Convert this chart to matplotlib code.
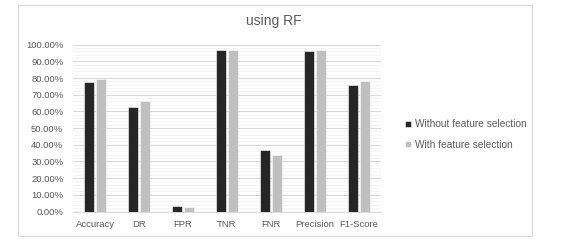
import matplotlib.pyplot as plt
import numpy as np
from matplotlib.patches import Rectangle
from matplotlib.ticker import MultipleLocator, PercentFormatter

# Data (in percent)
metrics = ["Accuracy", "DR", "FPR", "TNR", "FNR", "Precision", "F1-Score"]
without_fs = [77.5, 62.9, 3.2, 96.7, 36.8, 96.3, 75.8]
with_fs = [79.7, 66.3, 2.6, 97.1, 33.6, 96.7, 78.2]

DARK = "#262626"
LIGHT = "#bfbfbf"
TEXT = "#595959"

plt.rcParams['font.family'] = ['Liberation Sans', 'DejaVu Sans']

fig = plt.figure(figsize=(5.69, 2.46), dpi=100)
W, H = 569, 246

# outer chart border, like the Excel chart area
fig.patches.append(Rectangle((18 / W, 1 - 236 / H), (532 - 18) / W, (236 - 5) / H,
                             transform=fig.transFigure, fill=False,
                             edgecolor="#d9d9d9", linewidth=0.8))

ax = fig.add_axes([73 / W, 1 - 211.5 / H, (381 - 73) / W, (211.5 - 44.7) / H])

x = np.arange(len(metrics))
bw = 0.22
ax.bar(x - 0.14, without_fs, width=bw, color=DARK, edgecolor="white",
       linewidth=0.4, label="Without feature selection", zorder=3)
ax.bar(x + 0.14, with_fs, width=bw, color=LIGHT, edgecolor="white",
       linewidth=0.4, label="With feature selection", zorder=3)

ax.set_xlim(-0.5, len(metrics) - 0.5)
ax.set_ylim(0, 100)
ax.yaxis.set_major_locator(MultipleLocator(10))
ax.yaxis.set_minor_locator(MultipleLocator(2))
ax.yaxis.set_major_formatter(PercentFormatter(decimals=2))
ax.grid(axis='y', which='major', color="#d9d9d9", linewidth=0.8, zorder=0)
ax.grid(axis='y', which='minor', color="#f2f2f2", linewidth=0.6, zorder=0)

ax.set_xticks(x)
ax.set_xticklabels(metrics)
ax.tick_params(axis='both', which='both', length=0, labelsize=6.8, labelcolor=TEXT)
ax.tick_params(axis='y', pad=7)
ax.tick_params(axis='x', pad=6)

for side in ["top", "right", "left"]:
    ax.spines[side].set_visible(False)
ax.spines["bottom"].set_color("#d9d9d9")
ax.spines["bottom"].set_linewidth(0.8)

# title centred over the chart area
fig.text(274 / W, 1 - 21 / H, "using RF", ha="center", va="center",
         fontsize=10, color=TEXT)

leg = ax.legend(loc="center left", bbox_to_anchor=(396 / W, 1 - 134.5 / H),
                bbox_transform=fig.transFigure, frameon=False, fontsize=7.3,
                handlelength=0.6, handleheight=0.6, handletextpad=0.4,
                labelspacing=1.0)
for t in leg.get_texts():
    t.set_color(TEXT)

fig.savefig("out.png", dpi=100)
